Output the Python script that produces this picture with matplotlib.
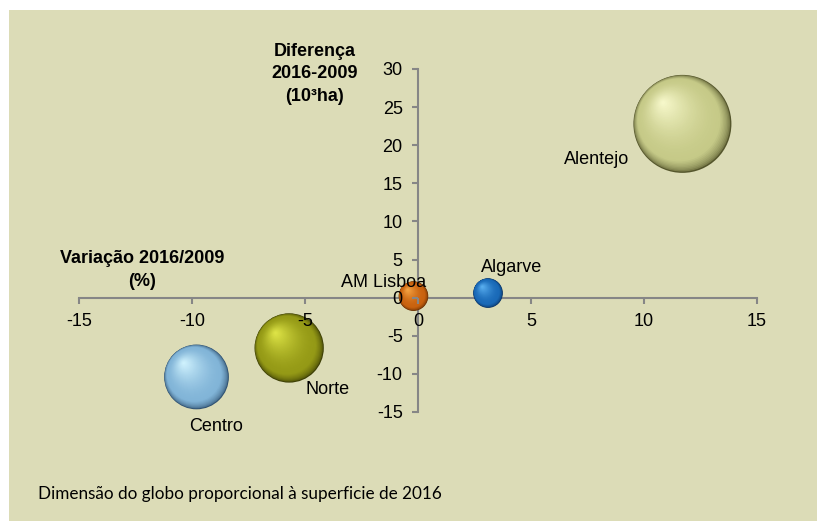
import numpy as np
import matplotlib
matplotlib.use('Agg')
import matplotlib.pyplot as plt
from matplotlib.colors import to_rgb
from matplotlib.patches import Rectangle
import matplotlib.transforms as mtransforms

# Variação 2016/2009 (%), diferença 2016-2009 (10^3 ha) e superfície 2016 (10^3 ha)
regions = ['Alentejo', 'Algarve', 'AM Lisboa', 'Norte', 'Centro']
variacao_pct = [11.7, 3.1, -0.2, -5.7, -9.8]
diferenca_kha = [22.8, 0.6, 0.2, -6.6, -10.4]
area_2016 = [220, 20, 20, 110, 96]

x_ticks = [-15, -10, -5, 0, 5, 10, 15]
y_ticks = [-15, -10, -5, 0, 5, 10, 15, 20, 25, 30]

# (dark edge, base, highlight)
SPHERE_COLORS = {
    'Alentejo': ('#55562c', '#c6ca88', '#f8f9cc'),
    'Algarve': ('#082e5c', '#1a6ab8', '#5cb2f2'),
    'AM Lisboa': ('#5e2b03', '#c9620f', '#f7a745'),
    'Norte': ('#3c3e05', '#959a16', '#e0e648'),
    'Centro': ('#2f5170', '#82b5d8', '#d2f4ff'),
}
# label offsets from bubble centre, in pixels (x right, y down)
LABEL_OFFSETS = {
    'Alentejo': (-86, 36),
    'Algarve': (24, -26),
    'AM Lisboa': (-30, -14),
    'Norte': (38, 42),
    'Centro': (20, 50),
}

BG = '#dcdcb7'
AXIS_GRAY = '#868686'
MAX_DIAM_PX = 98
DPI = 100


def mix(c1, c2, t):
    a = np.array(to_rgb(c1))
    b = np.array(to_rgb(c2))
    return tuple(a + (b - a) * t)


def draw_sphere(ax, fig, x, y, diam_px, colors, n=45):
    dark, base, light = colors
    for i in range(n):
        t = i / n
        d = diam_px * (1 - t) ** 0.85
        # shift each inner disc towards the upper-left highlight
        dx = -0.20 * diam_px * t
        dy = 0.22 * diam_px * t
        if t < 0.18:
            c = mix(dark, base, (t / 0.18) ** 0.5)
        else:
            c = mix(base, light, ((t - 0.18) / 0.82) ** 1.8)
        off = mtransforms.ScaledTranslation(dx / DPI, dy / DPI, fig.dpi_scale_trans)
        d_pt = d * 72 / DPI
        ax.scatter([x], [y], s=d_pt ** 2, color=c, edgecolors='none',
                   transform=ax.transData + off, zorder=3 + i * 0.001, clip_on=False)


def main():
    plt.rcParams['font.family'] = ['Liberation Sans', 'DejaVu Sans']
    plt.rcParams['axes.unicode_minus'] = False
    fig = plt.figure(figsize=(8.17, 5.21), dpi=DPI)
    fig.patch.set_facecolor('white')
    fig.patches.append(Rectangle((9 / 817, 0), 808 / 817, 511 / 521,
                                 transform=fig.transFigure, facecolor=BG,
                                 edgecolor='none', zorder=-10))

    ax = fig.add_axes([79 / 817, 1 - 412 / 521, 678 / 817, 343 / 521])
    ax.set_facecolor('none')
    ax.set_xlim(-15, 15)
    ax.set_ylim(-15, 30)

    for side in ('top', 'right'):
        ax.spines[side].set_visible(False)
    for side in ('left', 'bottom'):
        ax.spines[side].set_position('zero')
        ax.spines[side].set_color(AXIS_GRAY)
        ax.spines[side].set_linewidth(1.5)
        ax.spines[side].set_zorder(1)
    ax.xaxis.set_zorder(5)
    ax.yaxis.set_zorder(5)

    ax.set_xticks(x_ticks)
    ax.set_yticks(y_ticks)
    ax.tick_params(axis='x', direction='out', length=4, width=1.5, color=AXIS_GRAY,
                   labelsize=13, pad=7)
    ax.tick_params(axis='y', direction='out', length=4, width=1.5, color=AXIS_GRAY,
                   labelsize=13, pad=7)

    for name, xv, yv, a in zip(regions, variacao_pct, diferenca_kha, area_2016):
        diam = MAX_DIAM_PX * np.sqrt(a / max(area_2016))
        draw_sphere(ax, fig, xv, yv, diam, SPHERE_COLORS[name])
        ox, oy = LABEL_OFFSETS[name]
        ax.annotate(name, (xv, yv), xytext=(ox * 0.72, -oy * 0.72),
                    textcoords='offset points', ha='center', va='center',
                    fontsize=13, color='black', zorder=6)

    fig.text(315 / 817, 1 - 74 / 521, 'Diferença\n2016-2009\n(10³ha)',
             ha='center', va='center', fontsize=13, fontweight='bold',
             linespacing=1.45)
    fig.text(142 / 817, 1 - 270 / 521, 'Variação 2016/2009\n(%)',
             ha='center', va='center', fontsize=13, fontweight='bold',
             linespacing=1.45)
    fig.text(38 / 817, 1 - 494 / 521,
             'Dimensão do globo proporcional à superficie de 2016',
             ha='left', va='center', fontsize=12.3, family=['Lato', 'DejaVu Sans'])

    fig.savefig('out.png', dpi=DPI)
    plt.close(fig)


if __name__ == '__main__':
    main()
